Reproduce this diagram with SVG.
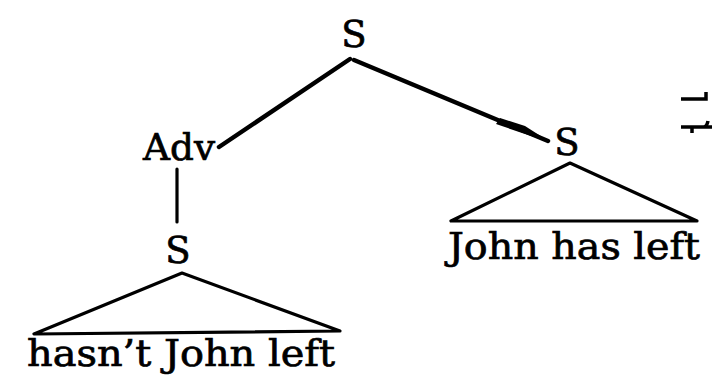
<svg xmlns="http://www.w3.org/2000/svg" width="712" height="375" viewBox="0 0 712 375">
<style>
  .lbl { font-family: "DejaVu Serif", "Liberation Serif", serif; font-size: 37px; fill: #000; stroke: #000; stroke-width: 0.7; }
  .edge { stroke: #000; stroke-width: 4.5; stroke-linecap: round; fill: none; }
  .thin { stroke: #000; stroke-width: 3.2; stroke-linecap: round; stroke-linejoin: round; fill: none; }
</style>
<rect width="712" height="375" fill="#ffffff"/>
<g id="connectors">
  <line class="edge" x1="350" y1="59" x2="219" y2="147"/>
  <line class="edge" x1="354" y1="60" x2="548" y2="141"/>
  <polygon points="500,118 525,126 550,142 522,133 496,124" fill="#000"/>
  <line class="thin" x1="177" y1="169" x2="177" y2="222"/>
</g>
<g id="node-s-top">
  <text class="lbl" x="354" y="47" text-anchor="middle">S</text>
</g>
<g id="node-adv">
  <text class="lbl" x="179" y="160" text-anchor="middle" textLength="72" lengthAdjust="spacingAndGlyphs">Adv</text>
</g>
<g id="node-s-right">
  <text class="lbl" x="567" y="155" text-anchor="middle">S</text>
  <path class="thin" d="M570,163 L451,221 L697,221 Z"/>
  <text class="lbl" x="448" y="259" textLength="252" lengthAdjust="spacingAndGlyphs">John has left</text>
</g>
<g id="node-s-low">
  <text class="lbl" x="178" y="263" text-anchor="middle">S</text>
  <path class="thin" d="M182,273 L34,334 L340,331 Z"/>
  <text class="lbl" x="27" y="366" textLength="308" lengthAdjust="spacingAndGlyphs">hasn’t John left</text>
</g>
<g id="arrow-right">
  <path d="M681,99 L706,99 L706,92" stroke="#000" stroke-width="3.5" fill="none"/>
  <path d="M681,127 L712,127 M692,127 L692,133 M704,127 Q707,126 708,121" stroke="#000" stroke-width="3.5" fill="none"/>
</g>
</svg>
